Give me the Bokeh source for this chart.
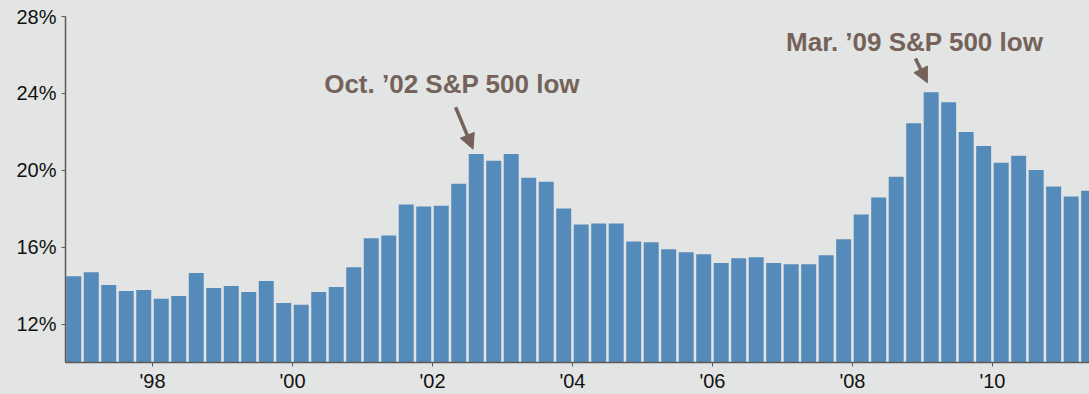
from bokeh.plotting import figure
from bokeh.models import FixedTicker, Arrow, NormalHead, Label, Range1d
from bokeh.embed import file_html
from bokeh.resources import INLINE

# ---- data -------------------------------------------------------------
quarters = [
    "1996Q4",
    "1997Q1", "1997Q2", "1997Q3", "1997Q4",
    "1998Q1", "1998Q2", "1998Q3", "1998Q4",
    "1999Q1", "1999Q2", "1999Q3", "1999Q4",
    "2000Q1", "2000Q2", "2000Q3", "2000Q4",
    "2001Q1", "2001Q2", "2001Q3", "2001Q4",
    "2002Q1", "2002Q2", "2002Q3", "2002Q4",
    "2003Q1", "2003Q2", "2003Q3", "2003Q4",
    "2004Q1", "2004Q2", "2004Q3", "2004Q4",
    "2005Q1", "2005Q2", "2005Q3", "2005Q4",
    "2006Q1", "2006Q2", "2006Q3", "2006Q4",
    "2007Q1", "2007Q2", "2007Q3", "2007Q4",
    "2008Q1", "2008Q2", "2008Q3", "2008Q4",
    "2009Q1", "2009Q2", "2009Q3", "2009Q4",
    "2010Q1", "2010Q2", "2010Q3", "2010Q4",
    "2011Q1", "2011Q2",
]
values = [
    14.49,
    14.70, 14.03, 13.72, 13.77,
    13.31, 13.46, 14.65, 13.87,
    13.98, 13.67, 14.24, 13.10,
    13.00, 13.67, 13.93, 14.96,
    16.46, 16.61, 18.22, 18.11,
    18.16, 19.30, 20.85, 20.49,
    20.85, 19.61, 19.40, 18.01,
    17.18, 17.23, 17.23, 16.30,
    16.25, 15.89, 15.73, 15.63,
    15.17, 15.42, 15.48, 15.17,
    15.11, 15.11, 15.58, 16.41,
    17.70, 18.58, 19.66, 22.45,
    24.06, 23.54, 21.99, 21.26,
    20.39, 20.75, 20.02, 19.15,
    18.63, 18.94,
]
tick_years = [1998, 2000, 2002, 2004, 2006, 2008, 2010]
tick_labels = ["'98", "'00", "'02", "'04", "'06", "'08", "'10"]
y_ticks = [12, 16, 20, 24, 28]
y_tick_labels = ["12%", "16%", "20%", "24%", "28%"]
annotations = [
    # text, text anchor (x, y), arrow start, arrow end
    ("Oct. \u201902 S&P 500 low", (2002.28, 24.47), (2002.33, 23.28), (2002.58, 21.10)),
    ("Mar. \u201909 S&P 500 low", (2008.89, 26.67), (2008.90, 25.81), (2009.07, 24.55)),
]

# ---- style ------------------------------------------------------------
BG = "#e3e5e4"
BAR = "#558bba"
BROWN = "#75625a"
AXIS = "#5a5a5a"
FONT = "Liberation Sans"
Y_MIN, Y_MAX = 10, 28

# quarter -> mid-point position in fractional years
xs = [int(q[:4]) + (int(q[5]) - 1) * 0.25 + 0.125 for q in quarters]

p = figure(
    width=1089, height=394,
    output_backend="svg", toolbar_location=None,
    x_range=Range1d(1996.757, 2011.387), y_range=Range1d(Y_MIN, Y_MAX),
    min_border_left=65, min_border_right=0, min_border_top=16, min_border_bottom=31,
)
p.background_fill_color = BG
p.border_fill_color = BG
p.outline_line_color = None
p.grid.visible = False

p.vbar(x=xs, top=values, bottom=Y_MIN, width=0.214, fill_color=BAR, line_color=None)

# axes
p.xaxis.ticker = FixedTicker(ticks=tick_years)
p.xaxis.major_label_overrides = {y: l for y, l in zip(tick_years, tick_labels)}
p.yaxis.ticker = FixedTicker(ticks=y_ticks)
p.yaxis.major_label_overrides = {y: l for y, l in zip(y_ticks, y_tick_labels)}
for ax in (p.xaxis[0], p.yaxis[0]):
    ax.axis_line_color = AXIS
    ax.axis_line_width = 1.5
    ax.major_tick_line_color = AXIS
    ax.major_tick_line_width = 1
    ax.major_tick_out = 4
    ax.major_tick_in = 0
    ax.minor_tick_line_color = None
    ax.major_label_text_font = FONT
    ax.major_label_text_font_size = "20px"
    ax.major_label_text_color = "#111111"
p.xaxis.major_label_standoff = 3
p.yaxis.major_label_standoff = 5

for text, (tx, ty), (sx, sy), (ex, ey) in annotations:
    p.add_layout(Label(x=tx, y=ty, text=text, text_font=FONT, text_font_style="bold",
                       text_font_size="26px", text_color=BROWN,
                       text_align="center", text_baseline="middle"))
    p.add_layout(Arrow(x_start=sx, y_start=sy, x_end=ex, y_end=ey,
                       line_color=BROWN, line_width=3.5,
                       end=NormalHead(size=15, fill_color=BROWN, line_color=BROWN)))

TEMPLATE = ("{% block postamble %}<style>html,body{background:#e3e5e4;"
            "margin:0 !important;padding:0 !important;}</style>{% endblock %}")
open("out.html", "w").write(file_html(p, INLINE, template=TEMPLATE))
